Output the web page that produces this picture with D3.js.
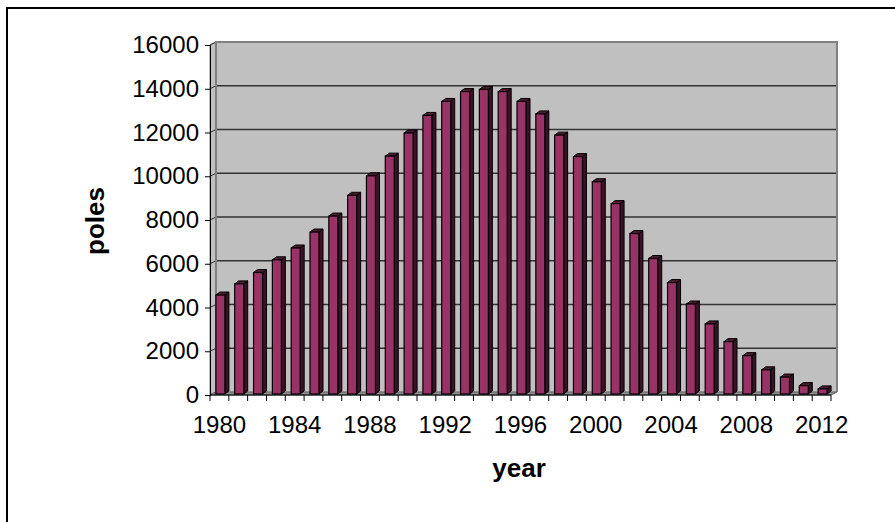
<!DOCTYPE html>
<html>
<head>
<meta charset="utf-8">
<script src="https://cdn.jsdelivr.net/npm/d3@7.9.0/dist/d3.min.js"></script>
<style>
  body { margin: 0; background: #fff; }
  text { font-family: "Liberation Sans", Arial, sans-serif; fill: #000; }
</style>
</head>
<body>
<div id="chart"></div>
<script>
// data
const years = d3.range(1980, 2013);
const poles = [4570, 5080, 5600, 6180, 6720, 7450, 8180, 9130, 10020, 10920,
               11980, 12780, 13420, 13870, 13970, 13870, 13420, 12850, 11880, 10900,
               9750, 8750, 7380, 6240, 5140, 4160, 3250, 2440, 1800, 1150,
               820, 430, 280];
const yTicks = [0, 2000, 4000, 6000, 8000, 10000, 12000, 14000, 16000];
const xLabels = [1980, 1984, 1988, 1992, 1996, 2000, 2004, 2008, 2012];

const width = 895;
const height = 522;

const svg = d3.select('#chart')
    .append('svg')
    .attr('width', width)
    .attr('height', height);

// chart frame
svg.append('rect')
    .attr('x', 7).attr('y', 8)
    .attr('width', 900).attr('height', 530)
    .attr('fill', '#fff')
    .attr('stroke', '#000')
    .attr('stroke-width', 2);

const xScale = d3.scaleBand().domain(years).range([210, 831]);
const yScale = d3.scaleLinear().domain([0, 16000]).range([395, 45]);

// 3d depth offset
const dx = 6, dy = -3;
const x0 = xScale.range()[0], x1 = xScale.range()[1];
const y0 = yScale(0), yTop = yScale(16000);

// side wall
svg.append('polygon')
    .attr('points', [[x0, yTop], [x0 + dx, yTop + dy], [x0 + dx, y0 + dy], [x0, y0]].join(' '))
    .attr('fill', '#c0c0c0')
    .attr('stroke', '#808080');

// back wall
svg.append('rect')
    .attr('x', x0 + dx).attr('y', yTop + dy)
    .attr('width', x1 - x0).attr('height', y0 - yTop)
    .attr('fill', '#c0c0c0');

// gridlines on back wall and side wall
const grid = svg.append('g').attr('class', 'gridlines');
grid.selectAll('line.back')
    .data(yTicks.slice(1, -1))
    .join('line')
    .attr('class', 'back')
    .attr('x1', x0 + dx).attr('x2', x1 + dx)
    .attr('y1', d => yScale(d) + dy).attr('y2', d => yScale(d) + dy)
    .attr('stroke', '#333')
    .attr('stroke-width', 1.5);
grid.selectAll('line.side')
    .data(yTicks)
    .join('line')
    .attr('class', 'side')
    .attr('x1', x0).attr('x2', x0 + dx)
    .attr('y1', d => yScale(d)).attr('y2', d => yScale(d) + dy)
    .attr('stroke', '#333');

// wall border
svg.append('path')
    .attr('d', `M${x0 + dx},${y0 + dy}V${yTop + dy}H${x1 + dx}V${y0 + dy}`)
    .attr('fill', 'none')
    .attr('stroke', '#808080')
    .attr('stroke-width', 2);

// floor
svg.append('polygon')
    .attr('points', [[x0, y0], [x0 + dx, y0 + dy], [x1 + dx, y0 + dy], [x1, y0]].join(' '))
    .attr('fill', '#909090')
    .attr('stroke', '#606060');

// bars
const bw = 9, bdx = 4, bdy = -3;
const bars = svg.append('g').attr('class', 'bars')
    .selectAll('g')
    .data(years.map((yr, i) => ({ year: yr, value: poles[i] })))
    .join('g');

bars.each(function (d) {
    const g = d3.select(this);
    const left = xScale(d.year) + xScale.bandwidth() / 2 - 3.5;
    const top = yScale(d.value);
    const bottom = y0 - 1;
    // side
    g.append('polygon')
        .attr('points', [[left + bw, top], [left + bw + bdx, top + bdy], [left + bw + bdx, bottom + bdy], [left + bw, bottom]].join(' '))
        .attr('fill', '#3a1226')
        .attr('stroke', '#000');
    // top
    g.append('polygon')
        .attr('points', [[left, top], [left + bdx, top + bdy], [left + bw + bdx, top + bdy], [left + bw, top]].join(' '))
        .attr('fill', '#4d1a33')
        .attr('stroke', '#000');
    // front
    g.append('rect')
        .attr('x', left).attr('y', top)
        .attr('width', bw).attr('height', bottom - top)
        .attr('fill', '#993366')
        .attr('stroke', '#000')
        .attr('stroke-width', 1.2);
});

// y axis
const yAxis = svg.append('g')
    .attr('transform', `translate(${x0}, 0)`)
    .call(d3.axisLeft(yScale).tickValues(yTicks).tickSize(5).tickPadding(6).tickFormat(d3.format('d')));
yAxis.select('.domain').attr('stroke', '#000');
yAxis.selectAll('.tick line').attr('stroke', '#000');
yAxis.selectAll('.tick text')
    .style('font-family', '"Liberation Sans", Arial, sans-serif')
    .style('font-size', '24px')
    .attr('fill', '#000');

// x axis
const xAxis = svg.append('g')
    .attr('transform', `translate(0, ${y0})`);
xAxis.append('line')
    .attr('x1', x0).attr('x2', x1)
    .attr('stroke', '#000');
xAxis.selectAll('line.tick')
    .data(years.concat([2013]))
    .join('line')
    .attr('class', 'tick')
    .attr('x1', d => d === 2013 ? x1 : xScale(d))
    .attr('x2', d => d === 2013 ? x1 : xScale(d))
    .attr('y1', 0).attr('y2', 6)
    .attr('stroke', '#000');
xAxis.selectAll('text')
    .data(xLabels)
    .join('text')
    .attr('x', d => xScale(d) + xScale.bandwidth() / 2)
    .attr('y', 38)
    .attr('text-anchor', 'middle')
    .style('font-size', '24px')
    .text(d => d);

// axis titles
svg.append('text')
    .attr('x', 519)
    .attr('y', 477)
    .attr('text-anchor', 'middle')
    .style('font-size', '26px')
    .style('font-weight', 'bold')
    .text('year');

svg.append('text')
    .attr('transform', 'translate(104, 221) rotate(-90)')
    .attr('text-anchor', 'middle')
    .style('font-size', '26px')
    .style('font-weight', 'bold')
    .text('poles');
</script>
</body>
</html>
